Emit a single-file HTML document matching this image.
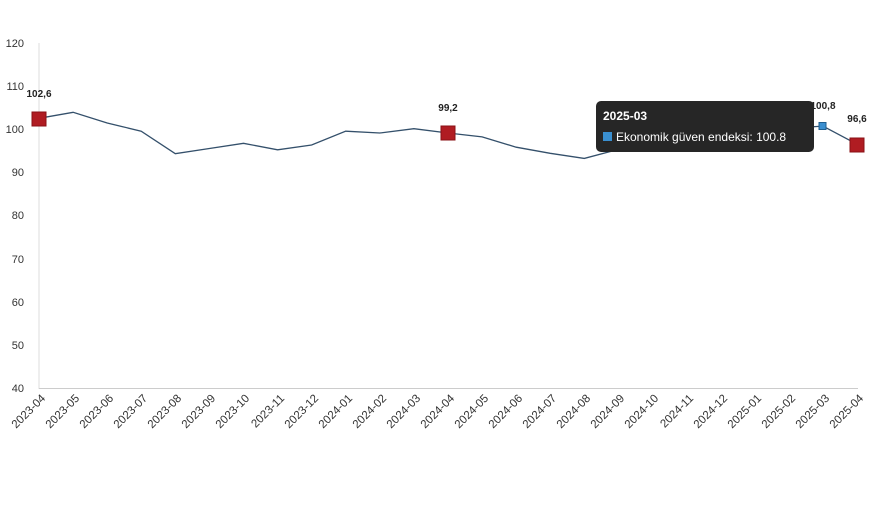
<!DOCTYPE html>
<html><head><meta charset="utf-8"><style>
body{margin:0;background:#fff;width:870px;height:516px;overflow:hidden;font-family:"Liberation Sans",Arial,sans-serif}
</style></head><body>
<svg width="870" height="516" xmlns="http://www.w3.org/2000/svg" font-family="Liberation Sans, Arial, sans-serif">
<line x1="39" y1="43" x2="39" y2="389" stroke="#ddd" stroke-width="1"/>
<line x1="39" y1="388.5" x2="858" y2="388.5" stroke="#ccc" stroke-width="1"/>
<g font-size="11" fill="#333" text-anchor="end">
<text x="24" y="47">120</text><text x="24" y="90">110</text><text x="24" y="133">100</text>
<text x="24" y="176">90</text><text x="24" y="219">80</text><text x="24" y="263">70</text>
<text x="24" y="306">60</text><text x="24" y="349">50</text><text x="24" y="392">40</text>
</g>
<g font-size="11.5" fill="#333" text-anchor="end">
<text transform="translate(46,399) rotate(-45)">2023-04</text>
<text transform="translate(80,399) rotate(-45)">2023-05</text>
<text transform="translate(114,399) rotate(-45)">2023-06</text>
<text transform="translate(148,399) rotate(-45)">2023-07</text>
<text transform="translate(182,399) rotate(-45)">2023-08</text>
<text transform="translate(216,399) rotate(-45)">2023-09</text>
<text transform="translate(250,399) rotate(-45)">2023-10</text>
<text transform="translate(285,399) rotate(-45)">2023-11</text>
<text transform="translate(319,399) rotate(-45)">2023-12</text>
<text transform="translate(353,399) rotate(-45)">2024-01</text>
<text transform="translate(387,399) rotate(-45)">2024-02</text>
<text transform="translate(421,399) rotate(-45)">2024-03</text>
<text transform="translate(455,399) rotate(-45)">2024-04</text>
<text transform="translate(489,399) rotate(-45)">2024-05</text>
<text transform="translate(523,399) rotate(-45)">2024-06</text>
<text transform="translate(557,399) rotate(-45)">2024-07</text>
<text transform="translate(591,399) rotate(-45)">2024-08</text>
<text transform="translate(625,399) rotate(-45)">2024-09</text>
<text transform="translate(659,399) rotate(-45)">2024-10</text>
<text transform="translate(694,399) rotate(-45)">2024-11</text>
<text transform="translate(728,399) rotate(-45)">2024-12</text>
<text transform="translate(762,399) rotate(-45)">2025-01</text>
<text transform="translate(796,399) rotate(-45)">2025-02</text>
<text transform="translate(830,399) rotate(-45)">2025-03</text>
<text transform="translate(864,399) rotate(-45)">2025-04</text>
</g>
<polyline fill="none" stroke="#34506b" stroke-width="1.3" points="39,118.3 73.1,112.3 107.2,123 141.2,131.2 175.3,153.7 209.4,148.5 243.5,143.3 277.6,149.8 311.6,145 345.7,131.2 379.8,133 413.9,128.7 448,133 482.1,136.9 516.2,147.2 550.2,153.3 584.3,158.4 618.4,149.4 652.5,140.3 686.6,138.2 720.6,133.9 754.7,131.7 788.8,128.3 822.9,126.1 857,144.2"/>
<g font-size="10" font-weight="bold" fill="#222" text-anchor="middle">
<text x="39" y="97">102,6</text><text x="448" y="111">99,2</text>
<text x="823" y="109">100,8</text><text x="857" y="122">96,6</text>
</g>
<rect x="32" y="112" width="14" height="14" fill="#b01c22" stroke="#8a1015"/>
<rect x="441" y="126" width="14" height="14" fill="#b01c22" stroke="#8a1015"/>
<rect x="596" y="101" width="218" height="51" rx="5" fill="#262626"/>
<text x="603" y="120" font-size="12" font-weight="bold" fill="#fff">2025-03</text>
<rect x="603" y="132" width="9" height="9" fill="#3a8fd0"/>
<text x="616" y="141" font-size="12" fill="#fff">Ekonomik güven endeksi: 100.8</text>
<rect x="819" y="122.5" width="7" height="7" fill="#3a8fd0" stroke="#1f5f90"/>
<rect x="850" y="138" width="14" height="14" fill="#b01c22" stroke="#8a1015"/>
</svg>
</body></html>
